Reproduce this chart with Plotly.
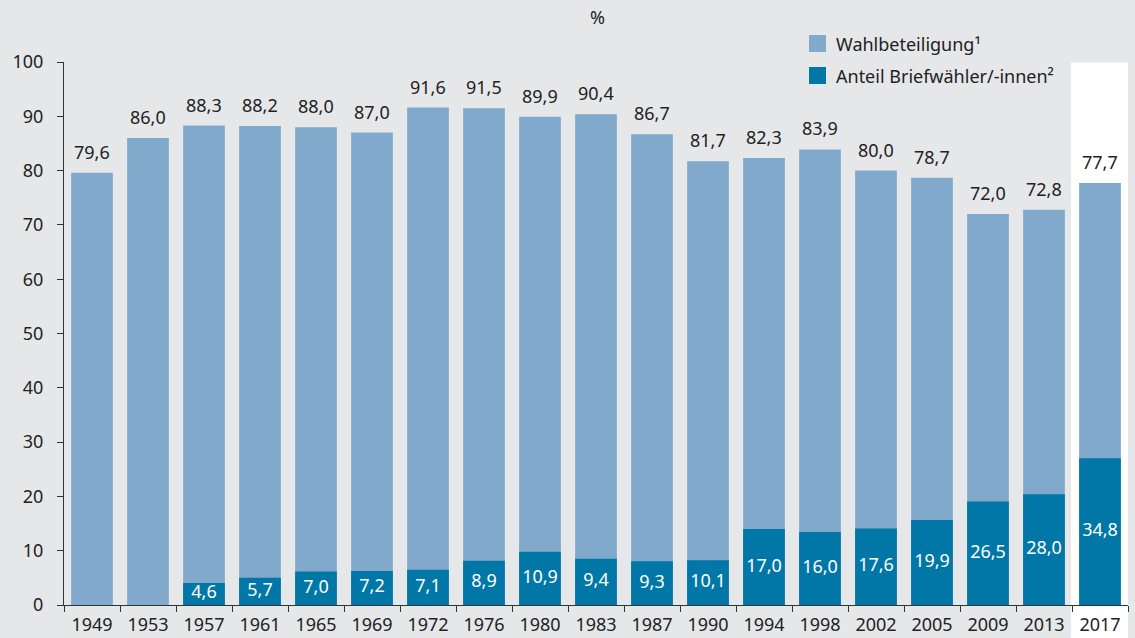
import plotly.graph_objects as go

years = ["1949", "1953", "1957", "1961", "1965", "1969", "1972", "1976", "1980", "1983",
         "1987", "1990", "1994", "1998", "2002", "2005", "2009", "2013", "2017"]
turnout = [79.6, 86.0, 88.3, 88.2, 88.0, 87.0, 91.6, 91.5, 89.9, 90.4,
           86.7, 81.7, 82.3, 83.9, 80.0, 78.7, 72.0, 72.8, 77.7]
postal_share = [None, None, 4.6, 5.7, 7.0, 7.2, 7.1, 8.9, 10.9, 9.4,
                9.3, 10.1, 17.0, 16.0, 17.6, 19.9, 26.5, 28.0, 34.8]

BG = "#e6e7e9"
LIGHT = "#80a9cc"
DARK = "#0077a6"
TXT = "#222222"
FONT = "Noto Sans"
FS = 18

def de(v):
    return f"{v:.1f}".replace(".", ",")

# postal voters as share of voters -> bar height relative to electorate
postal_height = [None if s is None else t * s / 100 for t, s in zip(turnout, postal_share)]

fig = go.Figure()
fig.add_trace(go.Bar(x=years, y=turnout, marker=dict(color=LIGHT, line=dict(width=0)),
                     width=0.745, name="Wahlbeteiligung¹", hoverinfo="skip"))
fig.add_trace(go.Bar(x=years, y=postal_height, marker=dict(color=DARK, line=dict(width=0)),
                     width=0.745, name="Anteil Briefwähler/-innen²", hoverinfo="skip"))

px = [y for y, h in zip(years, postal_height) if h is not None]
py = [h / 2 for h in postal_height if h is not None]
pt = [de(s) for s in postal_share if s is not None]
fig.add_trace(go.Scatter(x=px, y=py, text=pt, mode="text", textposition="middle center",
                         textfont=dict(color="white", size=FS, family=FONT), hoverinfo="skip"))

W, H = 1135, 638
L, R, T, B = 64, 7, 62, 33
pw, ph = W - L - R, H - T - B

def pxx(x):
    return (x - L) / pw

def pyy(y):
    return (H - B - y) / ph

annotations = []
for i, t in enumerate(turnout):
    annotations.append(dict(x=i, y=t, xref="x", yref="y", text=de(t), showarrow=False,
                            yanchor="bottom", yshift=7, font=dict(size=FS, color=TXT, family=FONT)))

annotations.append(dict(x=pxx(597), y=pyy(17), xref="paper", yref="paper", text="%", showarrow=False,
                        yanchor="middle", font=dict(size=FS, color=TXT, family=FONT)))
annotations.append(dict(x=pxx(834), y=pyy(44), xref="paper", yref="paper", text="Wahlbeteiligung¹",
                        showarrow=False, xanchor="left", yanchor="middle",
                        font=dict(size=FS, color=TXT, family=FONT)))
annotations.append(dict(x=pxx(834), y=pyy(76), xref="paper", yref="paper", text="Anteil Briefwähler/-innen²",
                        showarrow=False, xanchor="left", yanchor="middle",
                        font=dict(size=FS, color=TXT, family=FONT)))

shapes = [
    dict(type="rect", xref="paper", yref="paper", x0=pxx(1071), x1=pxx(1128), y0=pyy(640), y1=pyy(62.5),
         fillcolor="white", line=dict(width=0), layer="below"),
    dict(type="rect", xref="paper", yref="paper", x0=pxx(809), x1=pxx(826), y0=pyy(52), y1=pyy(35),
         fillcolor=LIGHT, line=dict(width=0)),
    dict(type="rect", xref="paper", yref="paper", x0=pxx(809), x1=pxx(826), y0=pyy(84), y1=pyy(67),
         fillcolor=DARK, line=dict(width=0)),
]

fig.update_layout(
    width=W, height=H, barmode="overlay", showlegend=False,
    paper_bgcolor=BG, plot_bgcolor="rgba(0,0,0,0)",
    margin=dict(l=L, r=R, t=T, b=B, pad=0, autoexpand=False),
    font=dict(family=FONT, color=TXT, size=FS),
    annotations=annotations, shapes=shapes,
    xaxis=dict(type="category", showline=True, linecolor="#333333", linewidth=1,
               ticks="outside", tickson="boundaries", ticklen=6, tickcolor="#333333",
               tickfont=dict(size=FS, color=TXT), showgrid=False, range=[-0.5, 18.5], fixedrange=True,
               ticklabelstandoff=3, automargin=False),
    yaxis=dict(range=[0, 100], dtick=10, showline=True, linecolor="#333333", linewidth=1,
               ticks="outside", ticklen=6, tickcolor="#333333", showgrid=False, zeroline=False,
               tickfont=dict(size=FS, color=TXT), ticklabelstandoff=10, fixedrange=True,
               automargin=False),
)

fig.write_html("out.html", config={"displayModeBar": False, "staticPlot": True},
               post_script="document.body.style.margin='0';document.body.style.overflow='hidden';")
